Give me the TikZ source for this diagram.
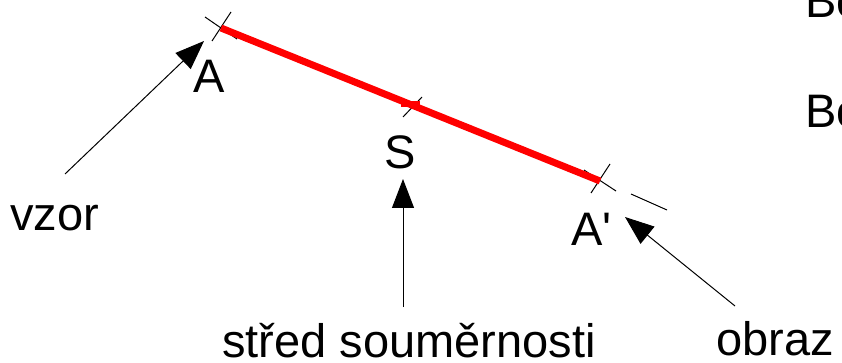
\documentclass[tikz,border=0pt]{standalone}
\usepackage{fontspec}
\setmainfont{Liberation Sans}
\usetikzlibrary{arrows.meta}
\begin{document}
\begin{tikzpicture}[x=1pt,y=-1pt,
  lbl/.style={inner sep=0pt,font=\fontsize{47}{56}\selectfont},
  thin line/.style={line width=1pt,black},
  pointer/.style={line width=1pt,-{Triangle[length=29pt,width=22pt]}},
  seg/.style={line width=7pt,red}]
\useasboundingbox (0,0) rectangle (842,363);
% points
\coordinate (A) at (221,28);
\coordinate (S) at (410,104);
\coordinate (Ap) at (600,181);
% cross marks
\draw[thin line] (205,17) -- (237,39);
\draw[thin line] (212,41) -- (231,12);
\draw[thin line] (584,170) -- (616,191);
\draw[thin line] (591,193) -- (610,164);
\draw[thin line] (403,117) -- (422,97);
\draw[thin line] (631,194) -- (667,210);
% segment
\draw[seg] (A) -- (Ap);
\fill[red] (401,101) rectangle (420,107);
% labels
\node[lbl,anchor=base] (lA) at (209,93) {A};
\node[lbl,anchor=base] (lS) at (400,169) {S};
\node[lbl,anchor=base west] (lAp) at (571,245) {A\textquotesingle};
\node[lbl,anchor=base west] (vzor) at (10,230) {vzor};
\node[lbl,anchor=base west] (stred) at (222,357) {střed souměrnosti};
\node[lbl,anchor=base west] (obraz) at (716,355) {obraz};
\node[lbl,anchor=base west] (bo1) at (805,18) {Bo};
\node[lbl,anchor=base west] (bo2) at (805,128) {Bo};
% pointers
\coordinate (vzorStart) at (65,174);
\coordinate (vzorTip) at (204,41);
\coordinate (sStart) at (403,307);
\coordinate (sTip) at (403,179);
\coordinate (oStart) at (735,306);
\coordinate (oTip) at (625,217);
\draw[pointer] (vzorStart) -- (vzorTip);
\draw[pointer] (sStart) -- (sTip);
\draw[pointer] (oStart) -- (oTip);
\end{tikzpicture}
\end{document}
